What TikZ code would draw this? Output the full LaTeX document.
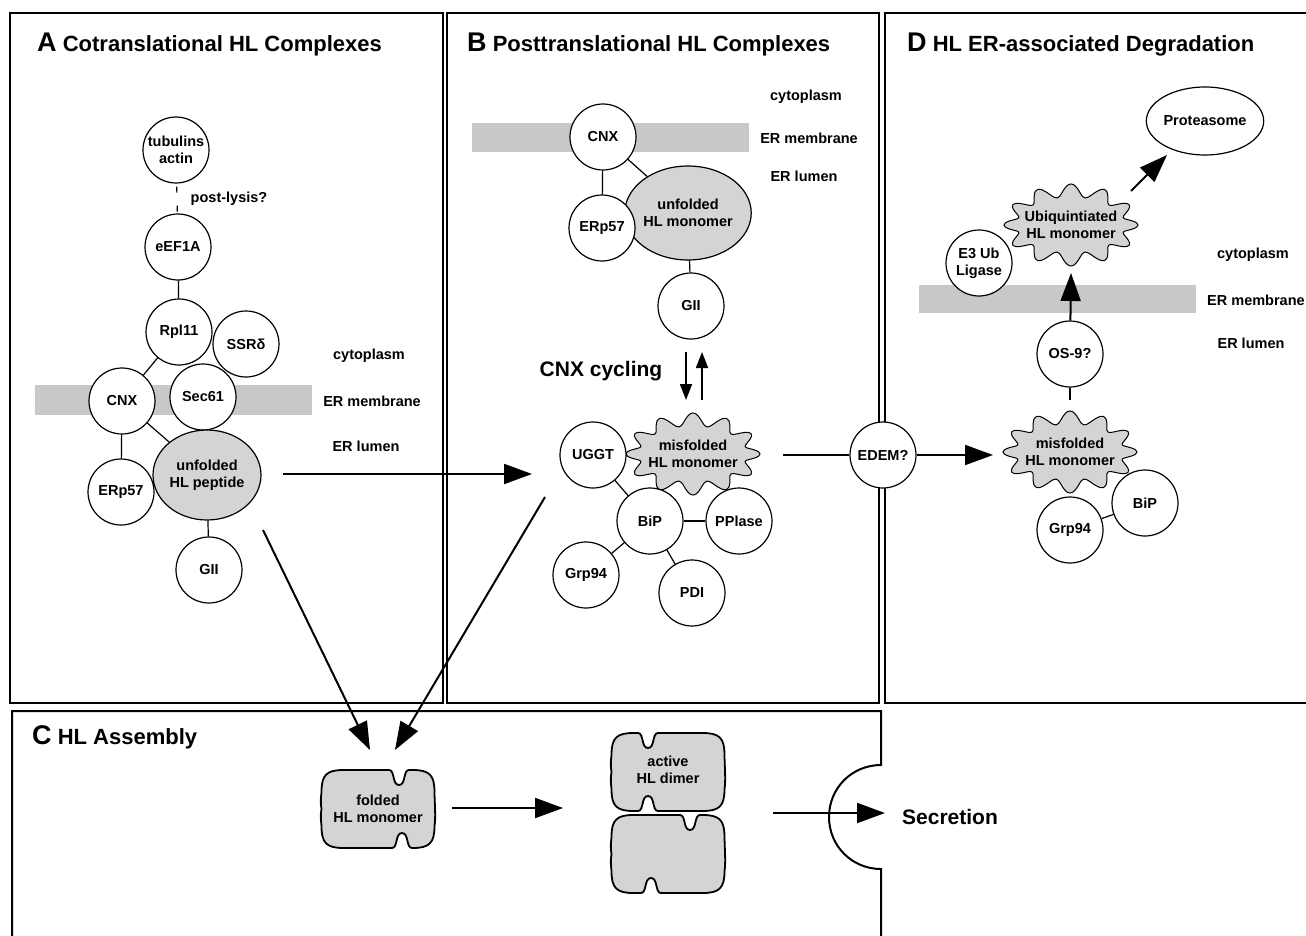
\documentclass[tikz,border=0pt]{standalone}
\usepackage{fontspec}
\setmainfont{Liberation Sans}
\usetikzlibrary{arrows.meta,shapes.geometric}
\definecolor{shapegray}{RGB}{212,212,212}
\definecolor{memgray}{RGB}{200,200,200}
\newcommand\ntxt{\fontsize{14.5}{17}\selectfont\bfseries}
\newcommand\hlburst[2]{%
  \draw[burstline] plot[smooth cycle, variable=\t, domain=0:357, samples=120]
    ({#1+(60.5+6.5*cos(12*\t))*cos(\t)}, {#2+(34.5+6.5*cos(12*\t))*sin(\t)});}
\newcommand\hlshape[4]{%
  \pgfmathsetmacro{\xl}{#1-56.5}\pgfmathsetmacro{\xr}{#1+56.5}%
  \pgfmathsetmacro{\yt}{#2-39}\pgfmathsetmacro{\yb}{#2+39}%
  \pgfmathsetmacro{\tn}{#1+#3}\pgfmathsetmacro{\bn}{#1+#4}%
  \draw[hlfold] (\xl,#2) .. controls (\xl-1.5,\yt+30) and (\xl,\yt+24) .. (\xl,\yt+22) .. controls (\xl,\yt+5) and (\xl+5,\yt) .. (\xl+22,\yt)
   -- (\tn-10,\yt) .. controls (\tn-4,\yt) and (\tn-7,\yt+15) .. (\tn,\yt+15)
   .. controls (\tn+7,\yt+15) and (\tn+4,\yt) .. (\tn+10,\yt)
   -- (\xr-22,\yt) .. controls (\xr-5,\yt) and (\xr,\yt+5) .. (\xr,\yt+22)
   .. controls (\xr,\yt+30) and (\xr+1.5,\yb-30) .. (\xr,\yb-22) .. controls (\xr,\yb-5) and (\xr-5,\yb) .. (\xr-22,\yb)
   -- (\bn+10,\yb) .. controls (\bn+4,\yb) and (\bn+7,\yb-15) .. (\bn,\yb-15)
   .. controls (\bn-7,\yb-15) and (\bn-4,\yb) .. (\bn-10,\yb)
   -- (\xl+22,\yb) .. controls (\xl+5,\yb) and (\xl,\yb-5) .. (\xl,\yb-22) .. controls (\xl,\yb-24) and (\xl-1.5,\yb-30) .. (\xl,#2) -- cycle;}
\tikzset{
 prot/.style={circle, draw=black, line width=1.2pt, fill=white, minimum size=66pt, inner sep=0pt, font=\ntxt, align=center},
 gell/.style={ellipse, draw=black, line width=1.2pt, fill=shapegray, inner sep=0pt, font=\ntxt, align=center},
 lbl/.style={font=\ntxt, inner sep=0pt},
 ttl/.style={anchor=base west, inner sep=0pt, font=\fontsize{22}{22}\selectfont\bfseries},
 link/.style={line width=1.2pt},
 flow/.style={line width=2pt, -{Triangle[length=28pt,width=20pt]}},
 cyc/.style={line width=1.8pt, -{Triangle[length=16pt,width=12pt]}},
 panel/.style={line width=2pt},
 membrane/.style={fill=memgray, draw=none},
 burstline/.style={draw=black, line width=1pt, fill=shapegray},
 bursttext/.style={ellipse, minimum width=132pt, minimum height=82pt, inner sep=0pt, font=\ntxt, align=center},
 hlfold/.style={draw=black, line width=1.8pt, fill=shapegray, line join=round},
 foldtext/.style={rectangle, minimum width=113pt, minimum height=78pt, inner sep=0pt, font=\ntxt, align=center},
}
\begin{document}
\begin{tikzpicture}[x=1pt,y=-1pt]
\useasboundingbox (0,0) rectangle (1306,936);
\fill[white] (0,0) rectangle (1306,936);
% panels
\draw[panel] (10,13) rectangle (443,703);
\draw[panel] (447,13) rectangle (879,703);
\draw[panel] (885,13) rectangle (1315,703);
\draw[panel] (12,945) -- (12,711) -- (881,711) -- (881,765)
  .. controls (852,765) and (829,788) .. (829,817)
  .. controls (829,846) and (852,869) .. (881,869) -- (881,945);
% titles
\node[ttl] (tA) at (37,52) {{\fontsize{27}{27}\selectfont A} Cotranslational HL Complexes};
\node[ttl] (tB) at (467,52) {{\fontsize{27}{27}\selectfont B} Posttranslational HL Complexes};
\node[ttl] (tD) at (907,52) {{\fontsize{27}{27}\selectfont D} HL ER-associated Degradation};
\node[ttl] (tC) at (32,744) {{\fontsize{27}{27}\selectfont C} HL Assembly};

% ---------------- Panel A
\fill[membrane] (35,385) rectangle (312,415);
\node[lbl] (cytA) at (369,356) {cytoplasm};
\node[lbl] (memA) at (372,401) {ER membrane};
\node[lbl] (lumA) at (366,446) {ER lumen};
\node[prot] (tub) at (176,150) {tubulins\\actin};
\node[prot] (eef) at (178,247) {eEF1A};
\node[lbl] (plys) at (229,199) {post-lysis?};
\node[prot] (rpl) at (179,332) {Rpl11};
\node[prot] (ssr) at (246,344) {SSRδ};
\node[prot] (cnxA) at (122,401) {CNX};
\node[prot] (sec) at (203,397) {Sec61};
\node[gell, minimum width=108pt, minimum height=90pt] (pep) at (207,475) {unfolded\\HL peptide};
\node[prot] (erpA) at (121,492) {ERp57};
\node[prot] (giiA) at (209,570) {GII};
\draw[link, dash pattern=on 6pt off 13pt, shorten <=3pt] (tub) -- (eef);
\draw[link] (eef) -- (rpl);
\draw[link] (rpl) -- (cnxA);
\draw[link] (cnxA) -- (erpA);
\draw[link] (cnxA) -- (pep);
\draw[link] (pep) -- (giiA);

% ---------------- Panel B
\fill[membrane] (472,123) rectangle (749,152);
\node[lbl] (cytB) at (806,97) {cytoplasm};
\node[lbl] (memB) at (809,138) {ER membrane};
\node[lbl] (lumB) at (804,176) {ER lumen};
\node[prot] (cnxB) at (603,137) {CNX};
\node[gell, minimum width=108pt, minimum height=94pt] (unB) at (688,213) {unfolded\\HL monomer};
\node[prot] (erpB) at (602,228) {ERp57};
\node[prot] (giiB) at (691,306) {GII};
\draw[link] (cnxB) -- (erpB);
\draw[link] (cnxB) -- (unB);
\draw[link] (unB) -- (giiB);
\node[anchor=center, inner sep=0pt, font=\fontsize{21}{21}\selectfont\bfseries] (cyc) at (601,371) {CNX cycling};
\coordinate (cdA) at (686,352);
\coordinate (cdB) at (686,400);
\coordinate (cuA) at (702,400);
\coordinate (cuB) at (702,352);
\draw[cyc] (cdA) -- (cdB);
\draw[cyc] (cuA) -- (cuB);
\hlburst{693}{454}
\node[bursttext] (misB) at (693,454) {misfolded\\HL monomer};
\node[prot] (ugg) at (593,455) {UGGT};
\node[prot] (bip) at (650,521) {BiP};
\node[prot] (ppl) at (739,521) {PPlase};
\node[prot] (grpB) at (586,575) {Grp94};
\node[prot] (pdi) at (692,593) {PDI};
\draw[link] (ugg) -- (bip);
\draw[link] (bip) -- (ppl);
\draw[link] (bip) -- (grpB);
\draw[link] (bip) -- (pdi);

% ---------------- Panel D
\fill[membrane] (919,285) rectangle (1196,313);
\node[lbl] (cytD) at (1253,255) {cytoplasm};
\node[lbl, anchor=west] (memD) at (1207,300) {ER membrane};
\node[lbl] (lumD) at (1251,343) {ER lumen};
\node[ellipse, draw=black, line width=1.2pt, fill=white, minimum width=94pt, minimum height=68pt, inner sep=0pt, font=\ntxt] (prot) at (1205,121) {Proteasome};
\hlburst{1071}{225}
\node[bursttext] (ubi) at (1071,225) {Ubiquintiated\\HL monomer};
\node[prot] (e3) at (979,263) {E3 Ub\\Ligase};
\node[prot] (os9) at (1070,354) {OS-9?};
\hlburst{1070}{452}
\node[bursttext] (misD) at (1070,452) {misfolded\\HL monomer};
\node[prot] (bipD) at (1145,503) {BiP};
\node[prot] (grpD) at (1070,530) {Grp94};
\draw[link] (grpD) -- (bipD);
\coordinate (osl) at (1070,400);
\draw[link] (os9) -- (osl);
\coordinate (ubt) at (1071,273);
\draw[flow] (os9) -- (ubt);
\coordinate (prs) at (1131,191);
\coordinate (prt) at (1167,155);
\draw[flow] (prs) -- (prt);

% EDEM on the border
\node[prot] (edem) at (883,455) {EDEM?};
\coordinate (edl) at (783,455);
\draw[link, line width=1.6pt] (edl) -- (edem);
\coordinate (edt) at (993,455);
\draw[flow] (edem) -- (edt);

% ---------------- Panel C
\hlshape{378}{809}{21}{24}
\node[foldtext] (mono) at (378,809) {folded\\HL monomer};
\hlshape{668}{772}{-20}{-20}
\node[foldtext] (dimA) at (668,770) {active\\HL dimer};
\hlshape{668}{854}{22}{-17}
\node[foldtext] (dimB) at (668,854) {};
\node[anchor=west, inner sep=0pt, font=\fontsize{21}{21}\selectfont\bfseries] (secr) at (902,817) {Secretion};
\coordinate (m1) at (452,808);
\coordinate (m2) at (563,808);
\draw[flow] (m1) -- (m2);
\coordinate (s1) at (773,813);
\coordinate (s2) at (885,813);
\draw[flow] (s1) -- (s2);

% flows between panels
\coordinate (ab1) at (283,474);
\coordinate (ab2) at (532,474);
\draw[flow] (ab1) -- (ab2);
\coordinate (ac1) at (263,530);
\coordinate (ac2) at (370,750);
\draw[flow] (ac1) -- (ac2);
\coordinate (bc1) at (545,497);
\coordinate (bc2) at (395,750);
\draw[flow] (bc1) -- (bc2);
\end{tikzpicture}
\end{document}
